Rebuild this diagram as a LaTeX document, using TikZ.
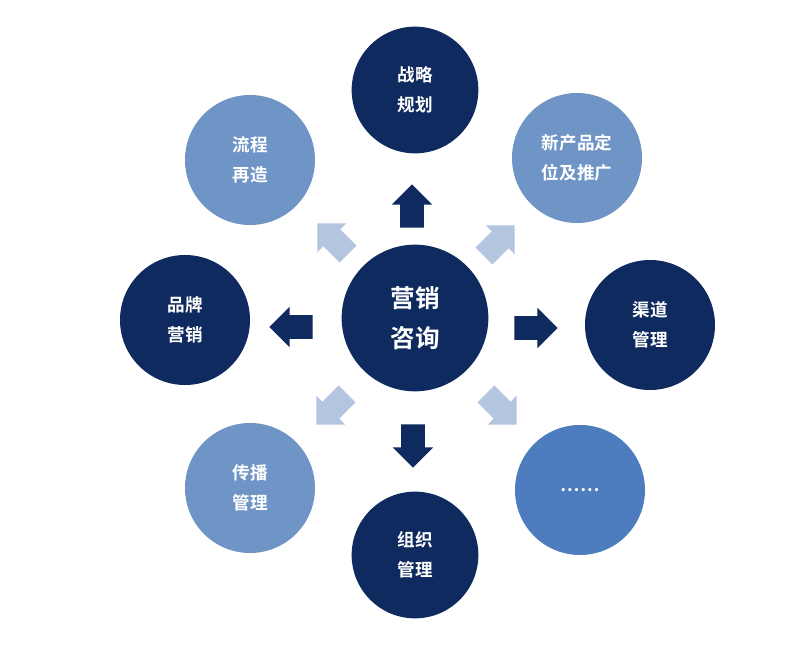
\documentclass[tikz,border=0pt]{standalone}
\usepackage{fontspec}
\newfontfamily\cjk{Noto Sans CJK SC}[BoldFont={Noto Sans CJK SC Bold}]
\usetikzlibrary{shapes.arrows}
\definecolor{navy}{HTML}{0F2A5E}
\definecolor{lightblue}{HTML}{6F95C6}
\definecolor{midblue}{HTML}{4D7DBE}
\definecolor{paleblue}{HTML}{B3C5DF}
\begin{document}
\begin{tikzpicture}[x=0.03cm,y=-0.03cm]
\tikzstyle{topic} = [circle, minimum size=3.9cm, text centered, text width=2.6cm, align=center, text=white, font=\cjk\bfseries\fontsize{15}{26}\selectfont]
\tikzstyle{dark} = [topic, fill=navy]
\tikzstyle{light} = [topic, fill=lightblue]
\tikzstyle{blockarrow} = [single arrow, minimum height=1.3cm, inner sep=0.35cm, single arrow head extend=0.25cm, single arrow head indent=0cm]

\useasboundingbox (0,0) rectangle (800,649);
\fill[white] (0,0) rectangle (800,649);

\node (center) [dark, minimum size=4.4cm, font=\cjk\bfseries\fontsize{21}{34}\selectfont] at (415,318) {营销\\咨询};
\node (plan) [dark, minimum size=3.8cm] at (415,90) {战略\\规划};
\node (product) [light] at (577,158) {新产品定\\位及推广};
\node (channel) [dark] at (650,325) {渠道\\管理};
\node (more) [topic, fill=midblue] at (580,490) {……};
\node (org) [dark, minimum size=3.8cm] at (415,555) {组织\\管理};
\node (spread) [light] at (250,488) {传播\\管理};
\node (brand) [dark] at (185,320) {品牌\\营销};
\node (process) [light] at (250,160) {流程\\再造};

\node (up) [blockarrow, fill=navy, shape border rotate=90] at (412,212) {};
\node (right) [blockarrow, fill=navy] at (530,328) {};
\node (left) [blockarrow, fill=navy, shape border rotate=180] at (297,327) {};
\node (down) [blockarrow, fill=navy, shape border rotate=270] at (413,440) {};
\node (upleft) [blockarrow, fill=paleblue, rotate=135] at (337,243) {};
\node (upright) [blockarrow, fill=paleblue, rotate=45] at (495,245) {};
\node (downleft) [blockarrow, fill=paleblue, rotate=225] at (336,405) {};
\node (downright) [blockarrow, fill=paleblue, rotate=315] at (497,405) {};

\end{tikzpicture}
\end{document}
